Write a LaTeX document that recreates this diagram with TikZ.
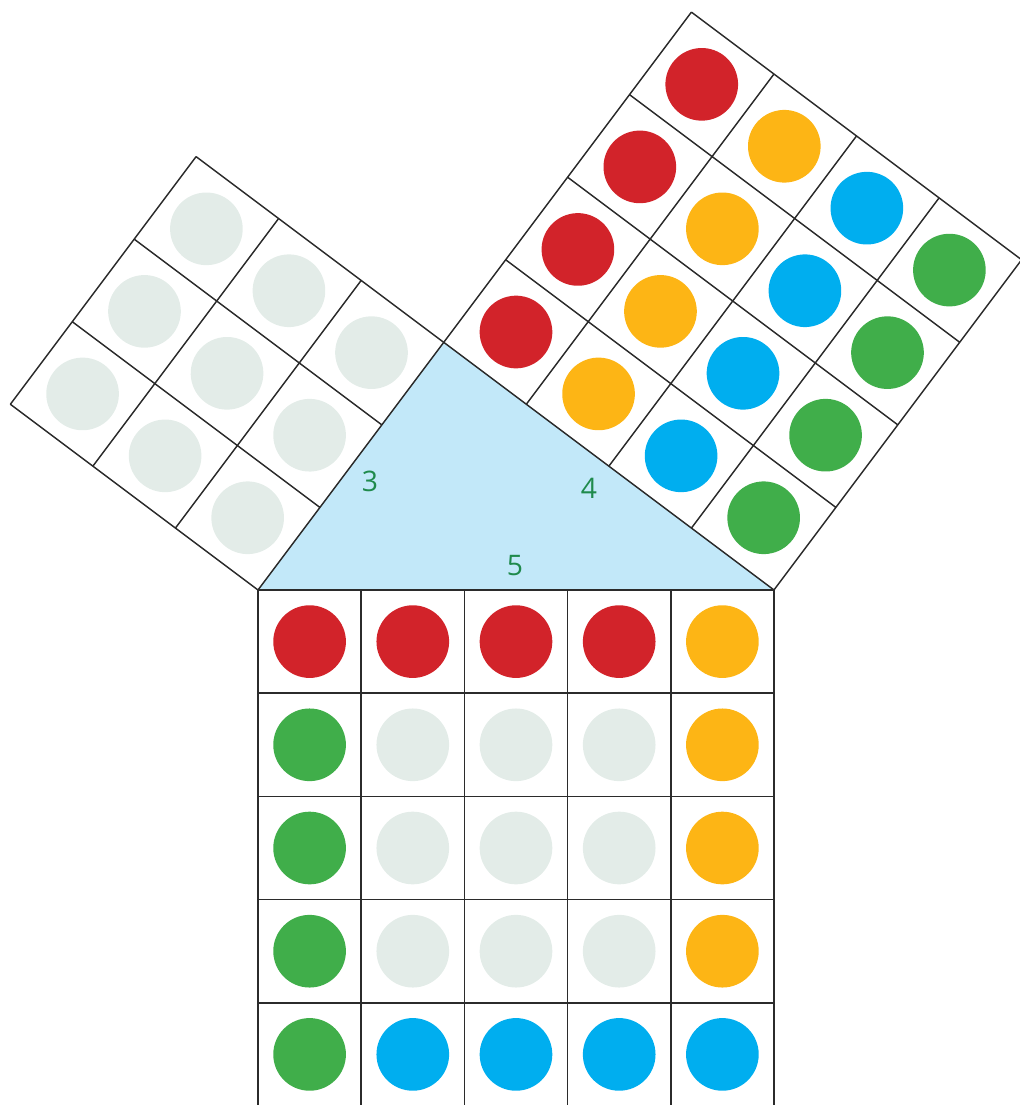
\documentclass[tikz,border=0pt]{standalone}
\usepackage{fontspec}
\setmainfont{Open Sans}
\definecolor{cred}{HTML}{D2232A}
\definecolor{corange}{HTML}{FDB515}
\definecolor{cblue}{HTML}{00AEEF}
\definecolor{cgreen}{HTML}{40AE4A}
\definecolor{cgray}{HTML}{E3ECE8}
\definecolor{tri}{HTML}{C2E8F9}
\definecolor{lbl}{HTML}{1F8A4C}
\definecolor{lin}{HTML}{2B2B2B}
\tikzset{
  gridline/.style={draw=lin, line width=0.4pt},
  lab/.style={text=lbl, font=\fontsize{7.8}{9}\selectfont, inner sep=0pt},
}
\newcommand{\dotat}[3]{\fill[#3] (#1,#2) circle (0.352);}
\begin{document}
\begin{tikzpicture}
\useasboundingbox (-2.5,-4.9903) rectangle (7.3837,5.7171);
% triangle
\coordinate (A) at (0,0);
\coordinate (B) at (5,0);
\coordinate (C) at (1.8,2.4);
\fill[tri] (A) -- (B) -- (C) -- cycle;
% left square (side 3)
\begin{scope}[shift={(A)}, rotate=53.1301]
  \foreach \i in {0,1,2} \foreach \j in {0,1,2} {\dotat{\i+0.5}{\j+0.5}{cgray}}
  \draw[gridline] (0,0) grid (3,3);
\end{scope}
% right square (side 4)
\begin{scope}[shift={(C)}, rotate=-36.8699]
  \foreach \j in {0,...,3} {
    \dotat{0.5}{\j+0.5}{cred}
    \dotat{1.5}{\j+0.5}{corange}
    \dotat{2.5}{\j+0.5}{cblue}
    \dotat{3.5}{\j+0.5}{cgreen}
  }
  \draw[gridline] (0,0) grid (4,4);
\end{scope}
% bottom square (side 5)
\begin{scope}
  \foreach \i in {0,1,2,3} {\dotat{\i+0.5}{-0.5}{cred}}
  \dotat{4.5}{-0.5}{corange}
  \foreach \j in {1,2,3} {
    \dotat{0.5}{-\j-0.5}{cgreen}
    \foreach \i in {1,2,3} {\dotat{\i+0.5}{-\j-0.5}{cgray}}
    \dotat{4.5}{-\j-0.5}{corange}
  }
  \dotat{0.5}{-4.5}{cgreen}
  \foreach \i in {1,2,3,4} {\dotat{\i+0.5}{-4.5}{cblue}}
  \draw[gridline] (0,-5) grid (5,0);
\end{scope}
% labels
\node[lab] (l3) at (1.085,1.056) {3};
\node[lab] (l4) at (3.207,0.988) {4};
\node[lab] (l5) at (2.490,0.233) {5};
\end{tikzpicture}
\end{document}
